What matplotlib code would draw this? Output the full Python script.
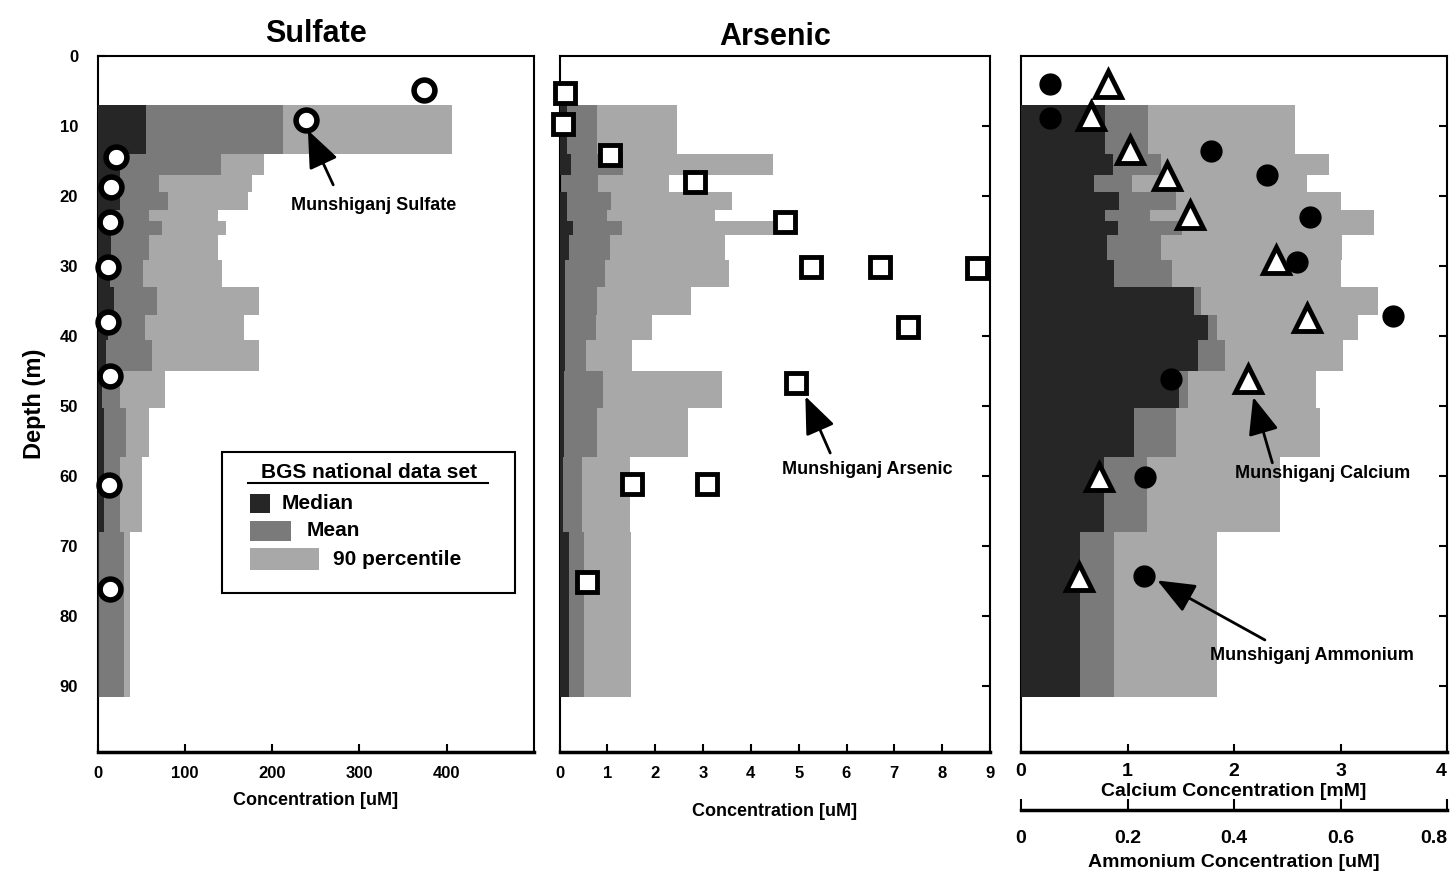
import matplotlib.pyplot as plt
from matplotlib.patches import Rectangle
from matplotlib.lines import Line2D
import numpy as np

# depth bins of the BGS national data set [m]
bin_edges = [7, 14, 17, 19.4, 22, 23.5, 25.6, 29.1, 33, 37, 40.5, 45, 50.3, 57.2, 68, 91.5]

# sulfate [uM]
sulfate_median = [56, 26, 26, 26, 15.5, 15.5, 15.5, 14, 19, 12, 9.7, 5.2, 7.4, 7.4, 1.5]
sulfate_mean = [212, 141, 70, 81, 59, 74, 59, 52, 68, 54, 62, 26, 33, 26, 30]
sulfate_p90 = [406, 191, 177, 172, 138, 147, 138, 143, 185, 168, 185, 77, 59, 51, 37]
munshi_sulfate = [374, 239, 21, 15, 14, 12, 12, 14, 13, 14]
munshi_sulfate_depth = [4.9, 9.1, 14.4, 18.7, 23.7, 30.1, 38.0, 45.7, 61.3, 76.1]

# arsenic [uM]
arsenic_median = [0.16, 0.24, 0.02, 0.16, 0.16, 0.28, 0.2, 0.12, 0.12, 0.12, 0.12, 0.1, 0.1, 0.08, 0.2]
arsenic_mean = [0.78, 1.33, 0.81, 1.08, 0.99, 1.31, 1.06, 0.95, 0.78, 0.76, 0.55, 0.91, 0.78, 0.47, 0.51]
arsenic_p90 = [2.46, 4.47, 2.29, 3.61, 3.25, 4.47, 3.46, 3.55, 2.75, 1.94, 1.52, 3.40, 2.69, 1.47, 1.5]
munshi_arsenic = [0.12, 0.07, 1.06, 2.83, 4.72, 5.26, 6.70, 8.73, 7.29, 4.95, 1.52, 3.09, 0.58]
munshi_arsenic_depth = [5.3, 9.7, 14.1, 18.0, 23.7, 30.1, 30.1, 30.3, 38.7, 46.7, 61.1, 61.1, 75.1]

# calcium [mM]
calcium_median = [0.79, 0.86, 0.69, 0.92, 0.79, 0.91, 0.81, 0.87, 1.62, 1.76, 1.66, 1.48, 1.06, 0.78, 0.55]
calcium_mean = [1.19, 1.31, 1.04, 1.46, 1.21, 1.51, 1.31, 1.42, 1.69, 1.84, 1.92, 1.57, 1.46, 1.18, 0.87]
calcium_p90 = [2.57, 2.89, 2.69, 3.0, 3.31, 3.31, 3.01, 3.0, 3.35, 3.16, 3.02, 2.77, 2.81, 2.43, 1.84]
munshi_calcium = [0.82, 0.66, 1.02, 1.37, 1.59, 2.39, 2.69, 2.13, 0.73, 0.54]
munshi_calcium_depth = [4.0, 8.5, 13.4, 17.2, 22.7, 29.2, 37.4, 46.1, 60.1, 74.4]

# ammonium [uM]
munshi_ammonium = [0.054, 0.054, 0.357, 0.462, 0.543, 0.518, 0.699, 0.282, 0.233, 0.231]
munshi_ammonium_depth = [4.0, 8.9, 13.6, 17.0, 23.0, 29.4, 37.1, 46.1, 60.1, 74.3]

MEDIAN_C = "#262626"
MEAN_C = "#7a7a7a"
P90_C = "#a8a8a8"

plt.rcParams["font.family"] = ["Liberation Sans", "DejaVu Sans"]
plt.rcParams["font.weight"] = "bold"
plt.rcParams["axes.labelweight"] = "bold"

edges = np.array(bin_edges)
centers = (edges[:-1] + edges[1:]) / 2
heights = np.diff(edges)

W, H = 1453, 877
fig = plt.figure(figsize=(W / 100, H / 100), dpi=100)


def px_axes(x0, x1, y0=56, y1=752):
    return fig.add_axes([x0 / W, 1 - y1 / H, (x1 - x0) / W, (y1 - y0) / H])


def draw_bins(ax, med, mean, p90):
    ax.barh(centers, p90, height=heights, color=P90_C, lw=0, zorder=1)
    ax.barh(centers, mean, height=heights, color=MEAN_C, lw=0, zorder=2)
    ax.barh(centers, med, height=heights, color=MEDIAN_C, lw=0, zorder=3)


def style(ax):
    ax.set_ylim(99.4, 0)
    for s in ax.spines.values():
        s.set_linewidth(1.5)
    ax.spines["bottom"].set_linewidth(2.5)
    ax.tick_params(direction="in", length=6, width=1.5, labelsize=12, pad=10)


def arrow(ax, tail, head):
    ax.annotate("", xy=head, xytext=tail,
                arrowprops=dict(arrowstyle="-|>,head_length=1.1,head_width=0.45",
                                color="black", lw=2, mutation_scale=21, shrinkA=0, shrinkB=0),
                zorder=6)


# ---- Sulfate ----
ax_s = px_axes(97.5, 534)
draw_bins(ax_s, sulfate_median, sulfate_mean, sulfate_p90)
ax_s.plot(munshi_sulfate, munshi_sulfate_depth, "o", ms=15, mfc="white", mec="black",
          mew=4, zorder=5, clip_on=False)
ax_s.set_xlim(0, 500)
style(ax_s)
ax_s.set_xticks([0, 100, 200, 300, 400])
ax_s.set_yticks(range(0, 100, 10))
ax_s.tick_params(axis="y", pad=14)
ax_s.set_xlabel("Concentration [uM]", fontsize=13, labelpad=8)
ax_s.set_ylabel("Depth (m)", fontsize=17, labelpad=10)
ax_s.set_title("Sulfate", fontsize=22, fontweight="bold", pad=10)
ax_s.text(316, 21.3, "Munshiganj Sulfate", fontsize=13, ha="center", va="center", zorder=6)
arrow(ax_s, (270, 18.4), (241, 10.6))

# legend box
tr = ax_s.transAxes
ax_s.add_patch(Rectangle((0.285, 0.228), 0.671, 0.203, transform=tr, fc="white",
                         ec="black", lw=1.5, zorder=7))
ax_s.text(0.621, 0.402, "BGS national data set", transform=tr, fontsize=15,
          ha="center", va="center", zorder=8)
ax_s.add_line(Line2D([0.345, 0.894], [0.386, 0.386], transform=tr, color="black",
                     lw=1.5, zorder=8))
for (x0, x1, y0, y1, tx, ty, label, color) in [
    (0.349, 0.395, 0.343, 0.371, 0.421, 0.357, "Median", MEDIAN_C),
    (0.349, 0.444, 0.303, 0.332, 0.480, 0.318, "Mean", MEAN_C),
    (0.349, 0.508, 0.261, 0.293, 0.540, 0.277, "90 percentile", P90_C),
]:
    ax_s.add_patch(Rectangle((x0, y0), x1 - x0, y1 - y0, transform=tr, fc=color,
                             lw=0, zorder=8))
    ax_s.text(tx, ty, label, transform=tr, fontsize=15, ha="left", va="center", zorder=8)

# ---- Arsenic ----
ax_a = px_axes(559.5, 990)
draw_bins(ax_a, arsenic_median, arsenic_mean, arsenic_p90)
ax_a.plot(munshi_arsenic, munshi_arsenic_depth, "s", ms=15, mfc="white", mec="black",
          mew=3.5, zorder=5, clip_on=False)
ax_a.set_xlim(0, 9)
style(ax_a)
ax_a.set_xticks(range(0, 10))
ax_a.set_yticks(range(10, 100, 10))
ax_a.tick_params(axis="y", left=True, right=True, labelleft=False)
ax_a.set_xlabel("Concentration [uM]", fontsize=13, labelpad=16)
ax_a.set_title("Arsenic", fontsize=22, fontweight="bold", pad=8)
ax_a.text(6.43, 59.0, "Munshiganj Arsenic", fontsize=13, ha="center", va="center", zorder=6)
arrow(ax_a, (5.66, 56.7), (5.14, 48.6))

# ---- Calcium / Ammonium ----
ax_c = px_axes(1021, 1447)
draw_bins(ax_c, calcium_median, calcium_mean, calcium_p90)
ax_c.plot(munshi_calcium, munshi_calcium_depth, "^", ms=19, mfc="white", mec="black",
          mew=3.5, zorder=5, clip_on=False)
ax_c.set_xlim(0, 4)
style(ax_c)
ax_c.set_xticks(range(0, 5))
ax_c.set_yticks(range(10, 100, 10))
ax_c.tick_params(axis="y", left=True, right=True, labelleft=False)
ax_c.tick_params(axis="x", top=True, labelsize=14, pad=8)
ax_c.get_xticklabels()[-1].set_horizontalalignment("right")
ax_c.set_xlabel("Calcium Concentration [mM]", fontsize=14, labelpad=2)
ax_c.text(2.83, 59.6, "Munshiganj Calcium", fontsize=13, ha="center", va="center", zorder=6)
arrow(ax_c, (2.36, 58.1), (2.18, 48.7))
ax_c.text(2.73, 85.6, "Munshiganj Ammonium", fontsize=13, ha="center", va="center", zorder=6)

ax_n = ax_c.twiny()
ax_n.set_xlim(0, 0.8)
ax_n.set_ylim(99.4, 0)
ax_n.plot(munshi_ammonium, munshi_ammonium_depth, "o", ms=15, color="black", zorder=5)
for side in ["top", "left", "right"]:
    ax_n.spines[side].set_visible(False)
ax_n.spines["bottom"].set_visible(True)
ax_n.spines["bottom"].set_position(("outward", 42))
ax_n.spines["bottom"].set_linewidth(2.5)
ax_n.xaxis.set_ticks_position("bottom")
ax_n.xaxis.set_label_position("bottom")
ax_n.set_xticks([0, 0.2, 0.4, 0.6, 0.8])
ax_n.set_xticklabels(["0", "0.2", "0.4", "0.6", "0.8"])
ax_n.get_xticklabels()[-1].set_horizontalalignment("right")
ax_n.tick_params(axis="x", direction="in", length=8, width=1.5, labelsize=14, pad=14)
ax_n.set_xlabel("Ammonium Concentration [uM]", fontsize=14, labelpad=5)
arrow(ax_n, (2.29 / 5, 83.4), (1.28 / 5, 74.9))

fig.savefig("out.png", dpi=100)
